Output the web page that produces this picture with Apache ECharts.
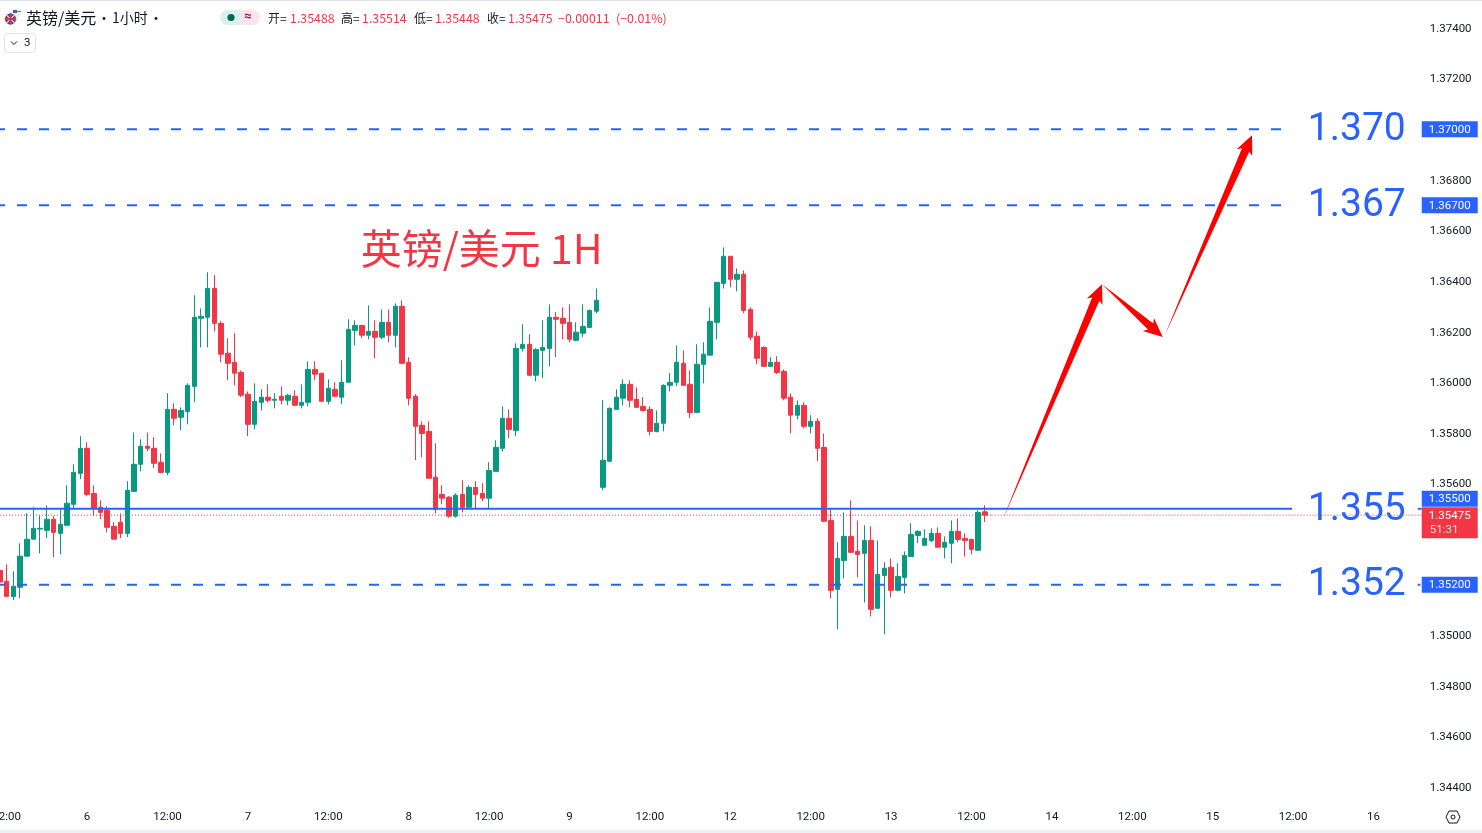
<!DOCTYPE html>
<html><head><meta charset="utf-8">
<script src="https://cdn.jsdelivr.net/npm/echarts@6/dist/echarts.min.js"></script>
<style>html,body{margin:0;padding:0;background:#fff}#c{width:1482px;height:833px}</style>
</head><body><div id="c"></div>
<script>
const opens=[1.35257,1.35214,1.35154,1.35190,1.35313,1.35380,1.35420,1.35415,1.35459,1.35403,
1.35435,1.35518,1.35640,1.35739,1.35561,1.35506,1.35494,1.35431,1.35447,1.35403,
1.35569,1.35676,1.35747,1.35739,1.35684,1.35644,1.35893,1.35862,1.35885,1.35984,
1.36253,1.36257,1.36371,1.36233,1.36115,1.36079,1.36039,1.35953,1.35834,1.35921,
1.35941,1.35929,1.35945,1.35929,1.35945,1.35909,1.35921,1.36051,1.36036,1.35925,
1.35972,1.35941,1.36000,1.36205,1.36225,1.36186,1.36201,1.36178,1.36237,1.36186,
1.36300,1.36079,1.35945,1.35830,1.35806,1.35625,1.35557,1.35546,1.35471,1.35557,
1.35506,1.35585,1.35561,1.35542,1.35648,1.35739,1.35858,1.35810,1.36134,1.36150,
1.36028,1.36126,1.36134,1.36257,1.36253,1.36237,1.36166,1.36194,1.36217,1.36281,
1.35585,1.35688,1.35893,1.35937,1.35992,1.35933,1.35905,1.35893,1.35806,1.35838,
1.35988,1.36000,1.36075,1.35992,1.35881,1.36071,1.36107,1.36237,1.36391,1.36498,
1.36407,1.36427,1.36288,1.36182,1.36138,1.36063,1.36079,1.36043,1.35941,1.35870,
1.35909,1.35826,1.35846,1.35743,1.35454,1.35182,1.35296,1.35391,1.35332,1.35324,
1.35375,1.35107,1.35237,1.35269,1.35178,1.35229,1.35312,1.35395,1.35356,1.35375,
1.35403,1.35348,1.35364,1.35411,1.35383,1.35379,1.35336,1.35488];
const closes=[1.35211,1.35154,1.35194,1.35313,1.35380,1.35423,1.35423,1.35459,1.35407,1.35439,
1.35522,1.35644,1.35739,1.35557,1.35502,1.35486,1.35427,1.35380,1.35403,1.35573,
1.35676,1.35747,1.35739,1.35680,1.35644,1.35893,1.35858,1.35889,1.35988,1.36257,
1.36261,1.36371,1.36233,1.36111,1.36075,1.36036,1.35949,1.35834,1.35925,1.35941,
1.35929,1.35933,1.35929,1.35949,1.35909,1.35921,1.36051,1.36032,1.35925,1.35976,
1.35945,1.36000,1.36209,1.36225,1.36186,1.36201,1.36178,1.36237,1.36186,1.36300,
1.36075,1.35937,1.35826,1.35798,1.35621,1.35498,1.35542,1.35471,1.35554,1.35506,
1.35585,1.35557,1.35542,1.35652,1.35743,1.35858,1.35814,1.36134,1.36150,1.36028,
1.36130,1.36138,1.36257,1.36249,1.36233,1.36170,1.36198,1.36221,1.36284,1.36324,
1.35692,1.35897,1.35941,1.35992,1.35929,1.35901,1.35889,1.35806,1.35838,1.35988,
1.36000,1.36079,1.35988,1.35881,1.36071,1.36111,1.36241,1.36395,1.36498,1.36407,
1.36427,1.36284,1.36178,1.36095,1.36063,1.36079,1.36039,1.35937,1.35870,1.35909,
1.35826,1.35846,1.35739,1.35451,1.35178,1.35304,1.35391,1.35328,1.35320,1.35375,
1.35103,1.35241,1.35265,1.35178,1.35233,1.35316,1.35399,1.35411,1.35383,1.35403,
1.35348,1.35368,1.35411,1.35379,1.35375,1.35340,1.35486,1.35475];
const lows=[1.35211,1.35151,1.35139,1.35147,1.35313,1.35380,1.35324,1.35384,1.35309,1.35320,
1.35435,1.35498,1.35617,1.35550,1.35471,1.35459,1.35407,1.35380,1.35384,1.35388,
1.35569,1.35648,1.35727,1.35660,1.35640,1.35633,1.35830,1.35810,1.35834,1.35921,
1.36138,1.36138,1.36201,1.36079,1.36008,1.35988,1.35941,1.35787,1.35814,1.35889,
1.35921,1.35897,1.35913,1.35909,1.35909,1.35897,1.35905,1.36008,1.35925,1.35913,
1.35941,1.35913,1.36000,1.36146,1.36174,1.36170,1.36095,1.36170,1.36158,1.36138,
1.36071,1.35909,1.35692,1.35704,1.35621,1.35482,1.35518,1.35465,1.35465,1.35486,
1.35506,1.35498,1.35530,1.35498,1.35648,1.35727,1.35779,1.35787,1.36122,1.36024,
1.36004,1.36016,1.36063,1.36099,1.36170,1.36158,1.36162,1.36178,1.36217,1.36273,
1.35573,1.35688,1.35893,1.35909,1.35901,1.35901,1.35885,1.35791,1.35802,1.35806,
1.35964,1.35984,1.35988,1.35858,1.35881,1.35996,1.36107,1.36170,1.36371,1.36375,
1.36359,1.36273,1.36166,1.36071,1.36063,1.36063,1.36032,1.35929,1.35798,1.35854,
1.35818,1.35798,1.35688,1.35447,1.35146,1.35024,1.35225,1.35328,1.35229,1.35130,
1.35075,1.35107,1.35004,1.35150,1.35174,1.35166,1.35312,1.35364,1.35356,1.35368,
1.35348,1.35304,1.35285,1.35368,1.35312,1.35320,1.35336,1.35448];
const highs=[1.35273,1.35281,1.35253,1.35364,1.35482,1.35506,1.35473,1.35514,1.35471,1.35498,
1.35593,1.35676,1.35787,1.35763,1.35593,1.35534,1.35510,1.35447,1.35482,1.35609,
1.35802,1.35775,1.35802,1.35783,1.35719,1.35957,1.35917,1.35901,1.35996,1.36344,
1.36292,1.36435,1.36423,1.36241,1.36174,1.36194,1.36047,1.35964,1.35996,1.35972,
1.35992,1.35957,1.35984,1.35953,1.35968,1.35992,1.36083,1.36083,1.36036,1.36012,
1.36000,1.36087,1.36249,1.36245,1.36225,1.36304,1.36245,1.36288,1.36288,1.36312,
1.36324,1.36099,1.35953,1.35846,1.35846,1.35759,1.35593,1.35550,1.35561,1.35613,
1.35593,1.35609,1.35601,1.35684,1.35771,1.35905,1.35893,1.36154,1.36229,1.36190,
1.36134,1.36245,1.36308,1.36277,1.36296,1.36308,1.36237,1.36308,1.36288,1.36371,
1.35929,1.35901,1.35972,1.36012,1.36008,1.35980,1.35941,1.35905,1.35889,1.35992,
1.36036,1.36146,1.36126,1.36047,1.36150,1.36158,1.36296,1.36395,1.36533,1.36498,
1.36450,1.36442,1.36296,1.36201,1.36142,1.36099,1.36103,1.36051,1.35956,1.35929,
1.35921,1.35870,1.35858,1.35798,1.35502,1.35368,1.35486,1.35533,1.35454,1.35435,
1.35431,1.35375,1.35289,1.35304,1.35285,1.35332,1.35443,1.35415,1.35419,1.35423,
1.35427,1.35391,1.35454,1.35462,1.35403,1.35383,1.35494,1.35514];

const barCount=213;
const tickBars=[1,13,25,37,49,61,73,85,97,109,121,133,145,157,169,181,193,205];
const tickLabels=['12:00','6','12:00','7','12:00','8','12:00','9','12:00','12','12:00','13','12:00','14','12:00','15','12:00','16'];
const dashedLevels=[1.37,1.367,1.352];
const solidLevel=1.355;
const lastPrice=1.35475;
const lastCountdown='51:31';
const tagLevels=[1.37,1.367,1.355,1.352];
const bigLabels=['1.370','1.367','1.355','1.352'];
const hiddenPriceLabels=['1.37000','1.35400','1.35200'];
const arrows=[[149.66,1.354577,164.48,1.363875],[164.48,1.363875,173.54,1.361792],[173.73,1.361792,186.87,1.369763]];
const noteText='英镑/美元 1H';
const notePoint=[71.9,1.365219];
const header={name:'英镑/美元',sep:'·',tf:'1小时',open:'1.35488',high:'1.35514',low:'1.35448',close:'1.35475',chg:'−0.00011',pct:'(−0.01%)'};

const BLUE='#2962ff',RED='#f23645',GREEN='#089981',INK='#131722';
const CJK='"Noto Sans CJK SC","Noto Sans",sans-serif';
const NUM='Roboto,"Noto Sans",sans-serif';

const categories=Array.from({length:barCount},(_,i)=>{const k=tickBars.indexOf(i);return k>=0?tickLabels[k]:'';});
const candles=opens.map((o,i)=>[o,closes[i],lows[i],highs[i]]);

function hline(level,from,to,style,z){
  return {type:'line',xAxisIndex:1,yAxisIndex:0,symbol:'none',silent:true,z:z,clip:false,
    data:[[from,level],[to,level]],lineStyle:style};
}
const series=[];
series.push(hline(lastPrice,0,148,{color:RED,width:1,type:[1,2]},1));
series.push({type:'candlestick',xAxisIndex:0,yAxisIndex:0,data:candles,barWidth:5,z:3,silent:true,
  itemStyle:{color:GREEN,color0:RED,borderColor:GREEN,borderColor0:RED,borderWidth:1}});
dashedLevels.forEach(v=>series.push(hline(v,0,192.84,{color:BLUE,width:2,type:[10,12],dashOffset:5},4)));
series.push(hline(solidLevel,0,192.84,{color:BLUE,width:2},4));
series.push(hline(solidLevel,211.6,212.2,{color:BLUE,width:2},4));
series.push(hline(1.352,211.6,212,{color:BLUE,width:2},4));
series.push(hline(lastPrice,148,212.2,{color:RED,width:1,type:[1,2]},6));

series.push({type:'custom',xAxisIndex:1,yAxisIndex:0,z:7,silent:true,clip:false,data:arrows,
  encode:{x:[0,2],y:[1,3]},
  renderItem(p,api){
    const a=api.coord([api.value(0),api.value(1)]),b=api.coord([api.value(2),api.value(3)]);
    const dx=b[0]-a[0],dy=b[1]-a[1],L=Math.hypot(dx,dy),ux=dx/L,uy=dy/L,nx=-uy,ny=ux;
    const H=19,HW=8.5,SW=4,BASE=H-3;
    const at=(d,w)=>[b[0]-ux*d+nx*w,b[1]-uy*d+ny*w];
    return {type:'polygon',shape:{points:[a,at(BASE,SW),at(H,HW),b,at(H,-HW),at(BASE,-SW)]},style:{fill:'#ff0000'}};
  }});

series.push({type:'custom',xAxisIndex:1,yAxisIndex:0,z:5,silent:true,clip:false,data:tagLevels.map((v,i)=>[202.5,v,i]),
  encode:{x:0,y:1},
  renderItem(p,api){
    const c=api.coord([api.value(0),api.value(1)]);
    return {type:'text',style:{text:bigLabels[api.value(2)],x:c[0],y:c[1]+1,align:'center',verticalAlign:'middle',
      fill:BLUE,font:'400 39px Roboto,sans-serif'}};
  }});

series.push({type:'custom',xAxisIndex:1,yAxisIndex:0,z:8,silent:true,clip:false,data:tagLevels.map(v=>[212.2,v]),
  encode:{x:0,y:1},
  renderItem(p,api){
    const v=api.value(1),c=api.coord([api.value(0),v]);
    const y=c[1]+(v===solidLevel?-10:0);
    return {type:'group',children:[
      {type:'rect',shape:{x:c[0],y:y-8,width:56,height:16},style:{fill:BLUE}},
      {type:'text',style:{text:v.toFixed(5),x:c[0]+28,y:y+0.5,align:'center',verticalAlign:'middle',fill:'#fff',font:'11.5px '+NUM}}
    ]};
  }});

series.push({type:'custom',xAxisIndex:1,yAxisIndex:0,z:9,silent:true,clip:false,data:[[212.2,lastPrice]],
  encode:{x:0,y:1},
  renderItem(p,api){
    const c=api.coord([api.value(0),api.value(1)]);
    return {type:'group',children:[
      {type:'rect',shape:{x:c[0],y:c[1]-8,width:56,height:31},style:{fill:RED}},
      {type:'text',style:{text:lastPrice.toFixed(5),x:c[0]+28,y:c[1]+1,align:'center',verticalAlign:'middle',fill:'#fff',font:'11.5px '+NUM}},
      {type:'text',style:{text:lastCountdown,x:c[0]+8,y:c[1]+15,align:'left',verticalAlign:'middle',fill:'rgba(255,255,255,.8)',font:'11.5px '+NUM}}
    ]};
  }});

series.push({type:'custom',xAxisIndex:1,yAxisIndex:0,z:7,silent:true,clip:false,data:[notePoint],
  encode:{x:0,y:1},
  renderItem(p,api){
    const c=api.coord([api.value(0),api.value(1)]);
    return {type:'text',style:{text:noteText,x:c[0],y:c[1]-2,align:'center',verticalAlign:'middle',fill:RED,font:'41px '+CJK}};
  }});

function txt(t,x,y,fill,font){return {type:'text',silent:true,z:20,style:{text:t,x:x,y:y,fill:fill,font:font,verticalAlign:'middle'}};}
const F12='12.4px '+CJK;
const graphic=[
  {type:'rect',silent:true,z:1,shape:{x:0,y:0,width:1482,height:1},style:{fill:'#e0e3eb'}},
  {type:'rect',silent:true,z:1,shape:{x:0,y:830,width:1482,height:3},style:{fill:'#eef0f3'}},
  {type:'circle',silent:true,z:20,shape:{cx:16,cy:13,r:4.5},style:{fill:'#e9eef5'}},
  {type:'rect',silent:true,z:20,shape:{x:13,y:10,width:4,height:3},style:{fill:'#3f62a8'}},
  {type:'rect',silent:true,z:20,shape:{x:17,y:11,width:4,height:1},style:{fill:'#e0455a'}},
  {type:'circle',silent:true,z:21,shape:{cx:10.5,cy:19,r:6},style:{fill:'#33508f',stroke:'#fff',lineWidth:1}},
  {type:'line',silent:true,z:22,shape:{x1:6.5,y1:15,x2:14.5,y2:23},style:{stroke:'#f1c7cc',lineWidth:1.3}},
  {type:'line',silent:true,z:22,shape:{x1:14.5,y1:15,x2:6.5,y2:23},style:{stroke:'#f1c7cc',lineWidth:1.3}},
  {type:'rect',silent:true,z:22,shape:{x:4.8,y:18,width:11.4,height:2},style:{fill:'#d8344a'}},
  {type:'rect',silent:true,z:22,shape:{x:9.5,y:13.3,width:2,height:11.4},style:{fill:'#d8344a'}},
  txt(header.name,26,18,INK,'16px '+CJK),
  txt(header.sep,97,18,INK,'14px '+CJK),
  txt(header.tf,112,18,INK,'14px '+CJK),
  txt(header.sep,149,18,INK,'14px '+CJK),
  {type:'rect',silent:true,z:20,shape:{x:220,y:10,width:20,height:15,r:[7.5,0,0,7.5]},style:{fill:'#d9f0ec'}},
  {type:'rect',silent:true,z:20,shape:{x:240,y:10,width:20,height:15,r:[0,7.5,7.5,0]},style:{fill:'#fce4ec'}},
  {type:'circle',silent:true,z:21,shape:{cx:231,cy:17.5,r:3.6},style:{fill:'#056656'}},
  txt('≈',244,17,'#a3154f','bold 13px '+NUM),
  txt('开=',268,18,INK,'12px '+CJK),txt(header.open,290,18,RED,F12),
  txt('高=',341,18,INK,'12px '+CJK),txt(header.high,362,18,RED,F12),
  txt('低=',414,18,INK,'12px '+CJK),txt(header.low,435,18,RED,F12),
  txt('收=',487,18,INK,'12px '+CJK),txt(header.close,508,18,RED,F12),
  txt(header.chg,558,18,RED,F12),txt(header.pct,616,18,RED,F12),
  {type:'rect',silent:true,z:20,shape:{x:4.5,y:33.5,width:31,height:19,r:3},style:{fill:'#fff',stroke:'#e0e3eb',lineWidth:1}},
  {type:'polyline',silent:true,z:21,shape:{points:[[11,41.5],[14,44.5],[17,41.5]]},style:{stroke:INK,fill:null,lineWidth:1}},
  txt('3',24,43,INK,'11.5px '+NUM),
  {type:'polygon',silent:true,z:20,shape:{points:[[1449,811],[1457,811],[1460,817],[1457,823],[1449,823],[1446,817]]},style:{fill:'#fff',stroke:INK,lineWidth:1}},
  {type:'circle',silent:true,z:21,shape:{cx:1453,cy:817,r:2},style:{fill:'#fff',stroke:INK,lineWidth:1}}
];

const chart=echarts.init(document.getElementById('c'),null,{renderer:'canvas'});
chart.setOption({
  animation:false,backgroundColor:'#fff',
  grid:{left:-3.35,top:28,width:1427.1,height:759.2,containLabel:false,outerBoundsMode:'none'},
  xAxis:[
    {type:'category',data:categories,boundaryGap:true,axisLine:{show:false},axisTick:{show:false},splitLine:{show:false},
     axisLabel:{show:true,interval:(i,v)=>v!=='',margin:24,color:INK,fontSize:11.5,fontFamily:NUM,hideOverlap:false,showMinLabel:true,showMaxLabel:true}},
    {type:'value',show:false,min:-0.5,max:212.5,splitLine:{show:false}}
  ],
  yAxis:[{type:'value',position:'right',min:1.344,max:1.374,interval:0.002,scale:true,
    axisLine:{show:false},axisTick:{show:false},splitLine:{show:false},
    axisLabel:{margin:6,formatter:v=>{const s=v.toFixed(5);return hiddenPriceLabels.includes(s)?'':'{a|'+s+'}';},
      rich:{a:{color:INK,fontSize:11.5,fontFamily:NUM,padding:[2,0,0,0]}}}}],
  series:series,
  graphic:graphic
});
</script></body></html>
